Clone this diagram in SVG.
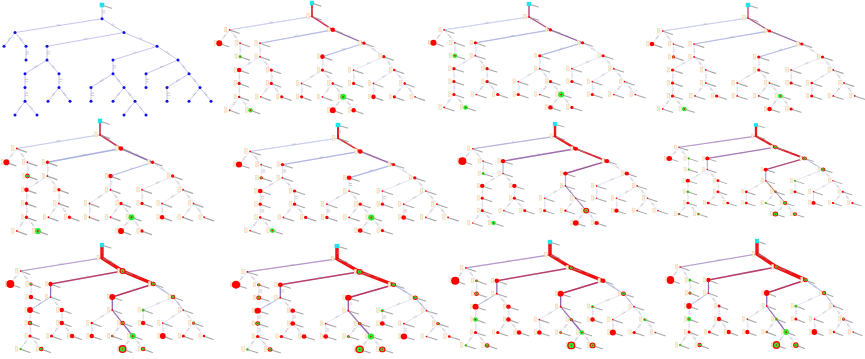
<svg xmlns="http://www.w3.org/2000/svg" xmlns:xlink="http://www.w3.org/1999/xlink" width="865" height="359" viewBox="0 0 865 359">
<style>
.lb{fill:#fcefd8;stroke:#e6c796;stroke-width:0.4}
.wh{stroke:#939393;stroke-width:1.15;stroke-linecap:round;opacity:0.8}
.r{fill:#f00}
.g{fill:#2ee82e}
.bl{fill:#1212e6}
.el{font-family:"Liberation Sans",sans-serif;font-size:2.6px;fill:#9a9a9a;text-anchor:middle;dominant-baseline:central}
.ov path{fill:none;stroke-linecap:round;stroke-linejoin:round}
</style>
<defs>
<g id="edges" fill="none">
<line x1="0" y1="0" x2="0" y2="13.75"/>
<line x1="0" y1="13.75" x2="-87" y2="27.5"/>
<line x1="0" y1="13.75" x2="22" y2="27.5"/>
<line x1="-87" y1="27.5" x2="-98" y2="41.25"/>
<line x1="-87" y1="27.5" x2="-76" y2="41.25"/>
<line x1="-76" y1="41.25" x2="-76" y2="55"/>
<line x1="22" y1="27.5" x2="-55" y2="41.25"/>
<line x1="22" y1="27.5" x2="55" y2="41.25"/>
<line x1="-55" y1="41.25" x2="-55" y2="55"/>
<line x1="-55" y1="55" x2="-77" y2="68.75"/>
<line x1="-55" y1="55" x2="-43" y2="68.75"/>
<line x1="-77" y1="68.75" x2="-77" y2="82.5"/>
<line x1="-77" y1="82.5" x2="-77" y2="96.25"/>
<line x1="-77" y1="96.25" x2="-87" y2="110"/>
<line x1="-77" y1="96.25" x2="-65" y2="110"/>
<line x1="-43" y1="68.75" x2="-43" y2="82.5"/>
<line x1="-43" y1="82.5" x2="-54" y2="96.25"/>
<line x1="-43" y1="82.5" x2="-32" y2="96.25"/>
<line x1="55" y1="41.25" x2="11" y2="55"/>
<line x1="55" y1="41.25" x2="76" y2="55"/>
<line x1="11" y1="55" x2="11" y2="68.75"/>
<line x1="11" y1="68.75" x2="-11" y2="82.5"/>
<line x1="11" y1="68.75" x2="22" y2="82.5"/>
<line x1="-11" y1="82.5" x2="-11" y2="96.25"/>
<line x1="22" y1="82.5" x2="11" y2="96.25"/>
<line x1="22" y1="82.5" x2="33" y2="96.25"/>
<line x1="33" y1="96.25" x2="22" y2="110"/>
<line x1="33" y1="96.25" x2="44" y2="110"/>
<line x1="76" y1="55" x2="44" y2="68.75"/>
<line x1="76" y1="55" x2="87" y2="68.75"/>
<line x1="44" y1="68.75" x2="44" y2="82.5"/>
<line x1="87" y1="68.75" x2="65" y2="82.5"/>
<line x1="87" y1="68.75" x2="98" y2="82.5"/>
<line x1="65" y1="82.5" x2="65" y2="96.25"/>
<line x1="98" y1="82.5" x2="87" y2="96.25"/>
<line x1="98" y1="82.5" x2="109" y2="96.25"/>
</g>
<g id="elabels" class="el">
<text transform="translate(0.8,6.9) rotate(90)">0.5</text>
<text transform="translate(-43.5,20.2) rotate(-9)">0.5</text>
<text transform="translate(11,20.2) rotate(32)">0.5</text>
<text transform="translate(-92.5,34.4) rotate(-51)">0.5</text>
<text transform="translate(-81.5,34.4) rotate(51)">0.5</text>
<text transform="translate(-75.2,48.1) rotate(90)">0.5</text>
<text transform="translate(-16.5,34) rotate(-10)">0.5</text>
<text transform="translate(38.5,34) rotate(23)">0.5</text>
<text transform="translate(-54.2,48.1) rotate(90)">0.5</text>
<text transform="translate(-66,61.9) rotate(-32)">0.5</text>
<text transform="translate(-49,61.9) rotate(49)">0.5</text>
<text transform="translate(-76.2,75.6) rotate(90)">0.5</text>
<text transform="translate(-76.2,89.4) rotate(90)">0.5</text>
<text transform="translate(-82,103.1) rotate(-54)">0.5</text>
<text transform="translate(-71,103.1) rotate(49)">0.5</text>
<text transform="translate(-42.2,75.6) rotate(90)">0.5</text>
<text transform="translate(-48.5,89.4) rotate(-51)">0.5</text>
<text transform="translate(-37.5,89.4) rotate(51)">0.5</text>
<text transform="translate(33,47.8) rotate(-17)">0.5</text>
<text transform="translate(65.5,48.1) rotate(33)">0.5</text>
<text transform="translate(11.8,61.9) rotate(90)">0.5</text>
<text transform="translate(0,75.6) rotate(-32)">0.5</text>
<text transform="translate(16.5,75.6) rotate(51)">0.5</text>
<text transform="translate(-10.2,89.4) rotate(90)">0.5</text>
<text transform="translate(16.5,89.4) rotate(-51)">0.5</text>
<text transform="translate(27.5,89.4) rotate(51)">0.5</text>
<text transform="translate(27.5,103.1) rotate(-51)">0.5</text>
<text transform="translate(38.5,103.1) rotate(51)">0.5</text>
<text transform="translate(60,61.9) rotate(-23)">0.5</text>
<text transform="translate(81.5,61.9) rotate(51)">0.5</text>
<text transform="translate(44.8,75.6) rotate(90)">0.5</text>
<text transform="translate(76,75.6) rotate(-32)">0.5</text>
<text transform="translate(92.5,75.6) rotate(51)">0.5</text>
<text transform="translate(65.8,89.4) rotate(90)">0.5</text>
<text transform="translate(92.5,89.4) rotate(-51)">0.5</text>
<text transform="translate(103.5,89.4) rotate(51)">0.5</text>
</g>
<g id="rootsym"><line class="wh" x1="1" y1="0.5" x2="9.5" y2="3.2"/><rect x="-2.3" y="-2.3" width="4.6" height="4.6" fill="#22e3ea"/></g>
<g id="nd"><rect class="lb" x="-5.4" y="-2.8" width="2.4" height="5"/><line class="wh" x1="1.2" y1="0.6" x2="10" y2="3.6"/><circle r="0.9" class="r"/></g>
<g id="lnodes">
<use href="#nd" x="0" y="13.75"/><use href="#nd" x="-87" y="27.5"/><use href="#nd" x="22" y="27.5"/>
<use href="#nd" x="-98" y="41.25"/><use href="#nd" x="-76" y="41.25"/><use href="#nd" x="-76" y="55"/>
<use href="#nd" x="-55" y="41.25"/><use href="#nd" x="55" y="41.25"/><use href="#nd" x="-55" y="55"/>
<use href="#nd" x="-77" y="68.75"/><use href="#nd" x="-43" y="68.75"/><use href="#nd" x="-77" y="82.5"/>
<use href="#nd" x="-77" y="96.25"/><use href="#nd" x="-87" y="110"/><use href="#nd" x="-65" y="110"/>
<use href="#nd" x="-43" y="82.5"/><use href="#nd" x="-54" y="96.25"/><use href="#nd" x="-32" y="96.25"/>
<use href="#nd" x="11" y="55"/><use href="#nd" x="76" y="55"/><use href="#nd" x="11" y="68.75"/>
<use href="#nd" x="-11" y="82.5"/><use href="#nd" x="22" y="82.5"/><use href="#nd" x="-11" y="96.25"/>
<use href="#nd" x="11" y="96.25"/><use href="#nd" x="33" y="96.25"/><use href="#nd" x="22" y="110"/>
<use href="#nd" x="44" y="110"/><use href="#nd" x="44" y="68.75"/><use href="#nd" x="87" y="68.75"/>
<use href="#nd" x="44" y="82.5"/><use href="#nd" x="65" y="82.5"/><use href="#nd" x="98" y="82.5"/>
<use href="#nd" x="65" y="96.25"/><use href="#nd" x="87" y="96.25"/><use href="#nd" x="109" y="96.25"/>
</g>
<circle id="Rt" r="1.25" class="r"/>
<circle id="Rs" r="1.65" class="r"/>
<circle id="Rm" r="2.35" class="r"/>
<circle id="Rl" r="3.1" class="r"/>
<circle id="Rxl" r="4.2" class="r"/>
<g id="Gt"><circle r="1.3" class="g"/><circle r="0.5" class="r"/></g>
<g id="Gs"><circle r="1.7" class="g"/><circle r="0.65" class="r"/></g>
<g id="Gm"><circle r="2.4" class="g"/><circle r="0.8" class="r"/></g>
<g id="Gl"><circle r="3.1" class="g"/><circle r="0.9" class="r"/></g>
<g id="RGt"><circle r="1.3" class="r"/><circle r="0.75" class="g"/><circle r="0.3" class="r"/></g>
<g id="RGs"><circle r="1.7" class="r"/><circle r="1.05" class="g"/><circle r="0.4" class="r"/></g>
<g id="RGm"><circle r="2.4" class="r"/><circle r="1.5" class="g"/><circle r="0.55" class="r"/></g>
<g id="RGl"><circle r="3.1" class="r"/><circle r="2" class="g"/><circle r="0.65" class="r"/></g>
<g id="RGxl"><circle r="4.2" class="r"/><circle r="2.8" class="g"/><circle r="0.75" class="r"/></g>
<circle id="Bs" r="1.5" fill="#a4602e"/>
</defs>

<rect width="865" height="359" fill="#fff"/>

<!-- Panel 1 -->
<g id="panel1" transform="translate(102,5)">
<g id="panel1-connectors"><use href="#edges" stroke="#c6c6f2" stroke-width="1"/></g>
<use href="#elabels"/>
<g id="panel1-nodes" class="bl">
<g id="p1-n1"><circle cx="0" cy="13.75" r="1.5"/></g>
<g id="p1-n2"><circle cx="-87" cy="27.5" r="1.5"/></g>
<g id="p1-n3"><circle cx="22" cy="27.5" r="1.5"/></g>
<g id="p1-n4"><circle cx="-98" cy="41.25" r="1.5"/></g>
<g id="p1-n5"><circle cx="-76" cy="41.25" r="1.5"/></g>
<g id="p1-n6"><circle cx="-76" cy="55" r="1.5"/></g>
<g id="p1-n7"><circle cx="-55" cy="41.25" r="1.5"/></g>
<g id="p1-n8"><circle cx="55" cy="41.25" r="1.5"/></g>
<g id="p1-n9"><circle cx="-55" cy="55" r="1.5"/></g>
<g id="p1-n10"><circle cx="-77" cy="68.75" r="1.5"/></g>
<g id="p1-n11"><circle cx="-43" cy="68.75" r="1.5"/></g>
<g id="p1-n12"><circle cx="-77" cy="82.5" r="1.5"/></g>
<g id="p1-n13"><circle cx="-77" cy="96.25" r="1.5"/></g>
<g id="p1-n14"><circle cx="-87" cy="110" r="1.5"/></g>
<g id="p1-n15"><circle cx="-65" cy="110" r="1.5"/></g>
<g id="p1-n16"><circle cx="-43" cy="82.5" r="1.5"/></g>
<g id="p1-n17"><circle cx="-54" cy="96.25" r="1.5"/></g>
<g id="p1-n18"><circle cx="-32" cy="96.25" r="1.5"/></g>
<g id="p1-n19"><circle cx="11" cy="55" r="1.5"/></g>
<g id="p1-n20"><circle cx="76" cy="55" r="1.5"/></g>
<g id="p1-n21"><circle cx="11" cy="68.75" r="1.5"/></g>
<g id="p1-n22"><circle cx="-11" cy="82.5" r="1.5"/></g>
<g id="p1-n23"><circle cx="22" cy="82.5" r="1.5"/></g>
<g id="p1-n24"><circle cx="-11" cy="96.25" r="1.5"/></g>
<g id="p1-n25"><circle cx="11" cy="96.25" r="1.5"/></g>
<g id="p1-n26"><circle cx="33" cy="96.25" r="1.5"/></g>
<g id="p1-n27"><circle cx="22" cy="110" r="1.5"/></g>
<g id="p1-n28"><circle cx="44" cy="110" r="1.5"/></g>
<g id="p1-n29"><circle cx="44" cy="68.75" r="1.5"/></g>
<g id="p1-n30"><circle cx="87" cy="68.75" r="1.5"/></g>
<g id="p1-n31"><circle cx="44" cy="82.5" r="1.5"/></g>
<g id="p1-n32"><circle cx="65" cy="82.5" r="1.5"/></g>
<g id="p1-n33"><circle cx="98" cy="82.5" r="1.5"/></g>
<g id="p1-n34"><circle cx="65" cy="96.25" r="1.5"/></g>
<g id="p1-n35"><circle cx="87" cy="96.25" r="1.5"/></g>
<g id="p1-n36"><circle cx="109" cy="96.25" r="1.5"/></g>
</g>
<g id="p1-n0"><use href="#rootsym"/></g>
</g>

<!-- Panel 2 -->
<g id="panel2" transform="translate(312,3) scale(0.946,0.975)">
<g id="panel2-connectors" class="ov"><use href="#edges" stroke="#dcdcf4" stroke-width="0.8"/>
<path d="M0 0V13.75" stroke="#e01818" stroke-width="1.7"/>
<path d="M0 13.75L22 27.5" stroke="#d03050" stroke-width="1.5"/>
<path d="M22 27.5L55 41.25" stroke="#9468a8" stroke-width="1.3"/>
<path d="M0 13.75L-87 27.5" stroke="#c8ccf0" stroke-width="1"/>
<path d="M22 27.5L-55 41.25" stroke="#b4bbe8" stroke-width="1.2"/>
<path d="M55 41.25L11 55" stroke="#bcc2ec" stroke-width="1.1"/>
</g>
<use href="#elabels"/><use href="#lnodes"/><use href="#rootsym"/>
<g id="panel2-nodes">
<use href="#Rm" x="22" y="27.5"/><use href="#Rs" x="55" y="41.25"/><use href="#Rl" x="-98" y="41.25"/>
<use href="#Gs" x="-76" y="55"/><use href="#Rm" x="-77" y="68.75"/><use href="#Rs" x="-43" y="68.75"/>
<use href="#Rs" x="-77" y="82.5"/><use href="#Rt" x="-77" y="96.25"/><use href="#Gm" x="-65" y="110"/>
<use href="#Rs" x="-43" y="82.5"/><use href="#Rs" x="-32" y="96.25"/><use href="#Rm" x="11" y="55"/>
<use href="#Rs" x="11" y="68.75"/><use href="#Rt" x="22" y="82.5"/><use href="#Rs" x="-11" y="96.25"/>
<use href="#Gl" x="33" y="96.25"/><use href="#Rl" x="22" y="110"/><use href="#Rm" x="44" y="110"/>
<use href="#Rs" x="76" y="55"/><use href="#Rt" x="87" y="68.75"/><use href="#Rs" x="44" y="82.5"/>
<use href="#Rt" x="98" y="82.5"/><use href="#Rm" x="65" y="96.25"/><use href="#Rs" x="87" y="96.25"/>
</g>
</g>

<!-- Panel 3 -->
<g id="panel3" transform="translate(529,4) scale(0.975,0.94)">
<g id="panel3-connectors" class="ov"><use href="#edges" stroke="#dcdcf4" stroke-width="0.8"/>
<path d="M0 0V13.75" stroke="#c04070" stroke-width="1.4"/>
<path d="M0 13.75L22 27.5" stroke="#b05088" stroke-width="1.3"/>
<path d="M22 27.5L55 41.25" stroke="#9a60a0" stroke-width="1.3"/>
<path d="M22 27.5L-55 41.25" stroke="#b4bce8" stroke-width="1.4"/>
<path d="M55 41.25L11 55" stroke="#b4bce8" stroke-width="1.3"/>
<path d="M0 13.75L-87 27.5" stroke="#cacef0" stroke-width="1"/>
</g>
<use href="#elabels"/><use href="#lnodes"/><use href="#rootsym"/>
<g id="panel3-nodes">
<use href="#Rs" x="22" y="27.5"/><use href="#Rs" x="55" y="41.25"/><use href="#Rl" x="-98" y="41.25"/>
<use href="#Gm" x="-76" y="55"/><use href="#Rs" x="-55" y="41.25"/><use href="#Rs" x="-77" y="68.75"/>
<use href="#Rs" x="-43" y="68.75"/><use href="#Rs" x="-77" y="82.5"/><use href="#Rs" x="-43" y="82.5"/>
<use href="#Rs" x="-77" y="96.25"/><use href="#Gm" x="-65" y="110"/><use href="#Rs" x="-32" y="96.25"/>
<use href="#Rs" x="11" y="55"/><use href="#Rs" x="76" y="55"/><use href="#Rs" x="22" y="82.5"/>
<use href="#Rs" x="-11" y="96.25"/><use href="#Gl" x="33" y="96.25"/><use href="#Rm" x="22" y="110"/>
<use href="#Rs" x="44" y="110"/><use href="#Rs" x="44" y="82.5"/><use href="#Rs" x="65" y="96.25"/>
</g>
</g>

<!-- Panel 4 -->
<g id="panel4" transform="translate(748,5) scale(0.98,0.945)">
<g id="panel4-connectors" class="ov"><use href="#edges" stroke="#dcdcf4" stroke-width="0.8"/>
<path d="M0 0V13.75" stroke="#c84060" stroke-width="1.3"/>
<path d="M0 13.75L22 27.5" stroke="#b05080" stroke-width="1.3"/>
<path d="M22 27.5L55 41.25" stroke="#9a68a8" stroke-width="1.2"/>
<path d="M22 27.5L-55 41.25" stroke="#b4bce8" stroke-width="1.3"/>
<path d="M55 41.25L11 55" stroke="#b4bce8" stroke-width="1.2"/>
<path d="M0 13.75L-87 27.5" stroke="#cacef0" stroke-width="1"/>
</g>
<use href="#elabels"/><use href="#lnodes"/><use href="#rootsym"/>
<g id="panel4-nodes">
<use href="#Rs" x="22" y="27.5"/><use href="#Rs" x="55" y="41.25"/><use href="#Rm" x="-98" y="41.25"/>
<use href="#RGs" x="-76" y="55"/><use href="#Rs" x="-77" y="68.75"/><use href="#Rs" x="-77" y="82.5"/>
<use href="#Rs" x="-77" y="96.25"/><use href="#Gm" x="-65" y="110"/><use href="#Rs" x="-32" y="96.25"/>
<use href="#Rs" x="11" y="55"/><use href="#Rs" x="11" y="68.75"/><use href="#Gm" x="33" y="96.25"/>
<use href="#Rm" x="22" y="110"/><use href="#Rs" x="44" y="110"/><use href="#Rs" x="76" y="55"/>
<use href="#Rs" x="44" y="82.5"/><use href="#Rt" x="65" y="82.5"/><use href="#Rs" x="65" y="96.25"/>
</g>
</g>

<!-- Panel 5 -->
<g id="panel5" transform="translate(100,121) scale(0.955,1)">
<g id="panel5-connectors" class="ov"><use href="#edges" stroke="#dcdcf4" stroke-width="0.8"/>
<path d="M0 0V13.75" stroke="#c04060" stroke-width="1.8"/>
<path d="M0 13.75L22 27.5" stroke="#c83858" stroke-width="1.5"/>
<path d="M22 27.5L55 41.25" stroke="#9070b0" stroke-width="1.4"/>
<path d="M22 27.5L-55 41.25" stroke="#aab2e2" stroke-width="1.3"/>
<path d="M55 41.25L11 55" stroke="#bac0ea" stroke-width="1.2"/>
<path d="M0 13.75L-87 27.5" stroke="#c8ccf0" stroke-width="1"/>
</g>
<use href="#elabels"/><use href="#lnodes"/><use href="#rootsym"/>
<g id="panel5-nodes">
<use href="#Rm" x="22" y="27.5"/><use href="#Rs" x="55" y="41.25"/><use href="#Rl" x="-98" y="41.25"/>
<use href="#RGm" x="-76" y="55"/><use href="#Rs" x="-55" y="41.25"/><use href="#Rm" x="-77" y="68.75"/>
<use href="#Rs" x="-43" y="68.75"/><use href="#Rs" x="-77" y="82.5"/><use href="#Rs" x="-77" y="96.25"/>
<use href="#Gl" x="-65" y="110"/><use href="#Rs" x="-32" y="96.25"/><use href="#Rm" x="11" y="55"/>
<use href="#Rs" x="76" y="55"/><use href="#Rs" x="22" y="82.5"/><use href="#Gl" x="33" y="96.25"/>
<use href="#Rl" x="22" y="110"/><use href="#Rs" x="44" y="110"/><use href="#Rs" x="44" y="82.5"/>
<use href="#Rm" x="65" y="96.25"/>
</g>
</g>

<!-- Panel 6 -->
<g id="panel6" transform="translate(338,125) scale(1.01,0.96)">
<g id="panel6-connectors" class="ov"><use href="#edges" stroke="#dcdcf4" stroke-width="0.8"/>
<path d="M0 0V13.75" stroke="#e02020" stroke-width="2"/>
<path d="M0 13.75L22 27.5" stroke="#e02828" stroke-width="1.6"/>
<path d="M22 27.5L55 41.25" stroke="#9a60a8" stroke-width="1.4"/>
<path d="M22 27.5L-55 41.25" stroke="#b2b9e6" stroke-width="1.4"/>
<path d="M55 41.25L11 55" stroke="#b2b9e6" stroke-width="1.3"/>
<path d="M0 13.75L-87 27.5" stroke="#c8ccf0" stroke-width="1"/>
</g>
<use href="#elabels"/><use href="#lnodes"/><use href="#rootsym"/>
<g id="panel6-nodes">
<use href="#Rm" x="22" y="27.5"/><use href="#Rs" x="55" y="41.25"/><use href="#Rl" x="-98" y="41.25"/>
<use href="#RGs" x="-76" y="55"/><use href="#Rs" x="-55" y="41.25"/><use href="#Rm" x="-77" y="68.75"/>
<use href="#Rs" x="-43" y="68.75"/><use href="#Rs" x="-77" y="82.5"/><use href="#Rs" x="-43" y="82.5"/>
<use href="#Rt" x="-77" y="96.25"/><use href="#Gm" x="-65" y="110"/><use href="#Rs" x="-32" y="96.25"/>
<use href="#Rm" x="11" y="55"/><use href="#Rs" x="22" y="82.5"/><use href="#Rs" x="-11" y="96.25"/>
<use href="#Gl" x="33" y="96.25"/><use href="#Rm" x="22" y="110"/><use href="#Rs" x="44" y="110"/>
<use href="#Rs" x="76" y="55"/><use href="#Rs" x="44" y="82.5"/><use href="#Rm" x="65" y="96.25"/>
</g>
</g>

<!-- Panel 7 -->
<g id="panel7" transform="translate(555,124) scale(0.945,0.9)">
<g id="panel7-connectors" class="ov"><use href="#edges" stroke="#dcdcf4" stroke-width="0.8"/>
<path d="M0 13.75L-87 27.5" stroke="#bcaedc" stroke-width="1.2"/>
<path d="M22 27.5L-55 41.25" stroke="#a070b0" stroke-width="1.5"/>
<path d="M55 41.25L11 55" stroke="#a05898" stroke-width="1.5"/>
<path d="M-55 41.25V55" stroke="#b8bfea" stroke-width="1.1"/>
<path d="M11 55V68.75" stroke="#b4a6d4" stroke-width="1.1"/>
<path d="M11 68.75L22 82.5L33 96.25" stroke="#a888c6" stroke-width="1.1"/>
<path d="M0 0V13.75L22 27.5" stroke="#e81818" stroke-width="2.6"/>
<path d="M22 27.5L55 41.25" stroke="#e02030" stroke-width="2"/>
</g>
<use href="#elabels"/><use href="#lnodes"/><use href="#rootsym"/>
<g id="panel7-nodes">
<use href="#Rm" x="22" y="27.5"/><use href="#Rm" x="55" y="41.25"/><use href="#Rxl" x="-98" y="41.25"/>
<use href="#Gs" x="-76" y="55"/><use href="#Rm" x="-55" y="41.25"/><use href="#Rm" x="-77" y="68.75"/>
<use href="#Rm" x="-43" y="68.75"/><use href="#Rs" x="-77" y="82.5"/><use href="#Rs" x="-43" y="82.5"/>
<use href="#Rs" x="-77" y="96.25"/><use href="#Gm" x="-65" y="110"/><use href="#Rs" x="-32" y="96.25"/>
<use href="#Rm" x="11" y="55"/><use href="#Rs" x="-11" y="96.25"/><use href="#Rt" x="11" y="96.25"/>
<use href="#RGl" x="33" y="96.25"/><use href="#Rl" x="22" y="110"/><use href="#Rm" x="44" y="110"/>
<use href="#Rm" x="76" y="55"/><use href="#Rm" x="65" y="96.25"/>
</g>
</g>

<!-- Panel 8 -->
<g id="panel8" transform="translate(756,125) scale(0.885,0.81)">
<g id="panel8-connectors" class="ov"><use href="#edges" stroke="#dcdcf4" stroke-width="0.8"/>
<path d="M0 13.75L-87 27.5" stroke="#b898cc" stroke-width="1.3"/>
<path d="M22 27.5L-55 41.25" stroke="#a878b8" stroke-width="1.5"/>
<path d="M55 41.25L11 55" stroke="#b04878" stroke-width="1.5"/>
<path d="M55 41.25L76 55" stroke="#b8bfea" stroke-width="1.1"/>
<path d="M-55 41.25V55" stroke="#b0b0e0" stroke-width="1.1"/>
<path d="M11 55V68.75" stroke="#a890c8" stroke-width="1.1"/>
<path d="M11 68.75L22 82.5" stroke="#c09070" stroke-width="1.2"/>
<path d="M22 82.5L33 96.25" stroke="#a080c0" stroke-width="1.1"/>
<path d="M0 0V13.75L22 27.5" stroke="#e81818" stroke-width="2.6"/>
<path d="M22 27.5L55 41.25" stroke="#e01828" stroke-width="2.3"/>
</g>
<use href="#elabels"/><use href="#lnodes"/><use href="#rootsym"/>
<g id="panel8-nodes">
<use href="#RGm" x="22" y="27.5"/><use href="#RGm" x="55" y="41.25"/><use href="#Rl" x="-98" y="41.25"/>
<use href="#Gt" x="-76" y="41.25"/><use href="#Gt" x="-76" y="55"/><use href="#Rm" x="-55" y="41.25"/>
<use href="#Rm" x="-77" y="68.75"/><use href="#Rs" x="-43" y="68.75"/><use href="#Gs" x="-77" y="82.5"/>
<use href="#Rs" x="-43" y="82.5"/><use href="#Rs" x="-77" y="96.25"/><use href="#Bs" x="-87" y="110"/>
<use href="#Gs" x="-65" y="110"/><use href="#Rs" x="-54" y="96.25"/><use href="#Rs" x="-32" y="96.25"/>
<use href="#Rm" x="11" y="55"/><use href="#RGm" x="76" y="55"/><use href="#Rs" x="-11" y="82.5"/>
<use href="#Bs" x="22" y="82.5"/><use href="#Rs" x="-11" y="96.25"/><use href="#Gt" x="11" y="96.25"/>
<use href="#RGm" x="33" y="96.25"/><use href="#RGl" x="22" y="110"/><use href="#RGm" x="44" y="110"/>
<use href="#Gt" x="44" y="68.75"/><use href="#Rs" x="44" y="82.5"/><use href="#Rt" x="98" y="82.5"/>
<use href="#Rm" x="65" y="96.25"/><use href="#Rt" x="87" y="96.25"/><use href="#Rt" x="109" y="96.25"/>
</g>
</g>

<!-- Panel 9 -->
<g id="panel9" transform="translate(102,245) scale(0.935,0.946)">
<g id="panel9-connectors" class="ov"><use href="#edges" stroke="#dcdcf4" stroke-width="0.8"/>
<path d="M0 13.75L-87 27.5" stroke="#b898cc" stroke-width="1.3"/>
<path d="M22 27.5L-55 41.25" stroke="#b84070" stroke-width="1.6"/>
<path d="M55 41.25L11 55" stroke="#b83060" stroke-width="1.6"/>
<path d="M55 41.25L76 55" stroke="#bcc3ec" stroke-width="1.2"/>
<path d="M-55 41.25V55" stroke="#9070b8" stroke-width="1.3"/>
<path d="M-55 55L-77 68.75" stroke="#b8bfea" stroke-width="1"/>
<path d="M76 55L87 68.75" stroke="#b8bfea" stroke-width="1"/>
<path d="M11 55V68.75" stroke="#9060b0" stroke-width="1.3"/>
<path d="M11 68.75L22 82.5" stroke="#a070b8" stroke-width="1.2"/>
<path d="M22 82.5L33 96.25" stroke="#9060c0" stroke-width="1.4"/>
<path d="M0 0V13.75L22 27.5L55 41.25" stroke="#ee1010" stroke-width="3.6"/>
</g>
<use href="#elabels"/><use href="#lnodes"/><use href="#rootsym"/>
<g id="panel9-nodes">
<use href="#RGl" x="22" y="27.5"/><use href="#RGm" x="55" y="41.25"/><use href="#Rxl" x="-98" y="41.25"/>
<use href="#RGs" x="-76" y="41.25"/><use href="#Rm" x="-76" y="55"/><use href="#Rm" x="-55" y="41.25"/>
<use href="#Rl" x="-77" y="68.75"/><use href="#Rm" x="-43" y="68.75"/><use href="#RGm" x="-77" y="82.5"/>
<use href="#Rm" x="-43" y="82.5"/><use href="#Rs" x="-77" y="96.25"/><use href="#Gt" x="-87" y="110"/>
<use href="#RGm" x="-65" y="110"/><use href="#Rs" x="-54" y="96.25"/><use href="#Rm" x="-32" y="96.25"/>
<use href="#Rl" x="11" y="55"/><use href="#Rt" x="-11" y="82.5"/><use href="#RGm" x="22" y="82.5"/>
<use href="#Rm" x="-11" y="96.25"/><use href="#RGt" x="11" y="96.25"/><use href="#Gl" x="33" y="96.25"/>
<use href="#RGxl" x="22" y="110"/><use href="#RGm" x="44" y="110"/><use href="#RGm" x="76" y="55"/>
<use href="#Gs" x="44" y="68.75"/><use href="#Rm" x="44" y="82.5"/><use href="#RGs" x="98" y="82.5"/>
<use href="#Rl" x="65" y="96.25"/><use href="#Rs" x="87" y="96.25"/><use href="#Rt" x="109" y="96.25"/>
</g>
</g>

<!-- Panel 10 -->
<g id="panel10" transform="translate(337,246) scale(1.03,0.94)">
<g id="panel10-connectors" class="ov"><use href="#edges" stroke="#dcdcf4" stroke-width="0.8"/>
<path d="M0 13.75L-87 27.5" stroke="#b898cc" stroke-width="1.3"/>
<path d="M22 27.5L-55 41.25" stroke="#b84070" stroke-width="1.6"/>
<path d="M55 41.25L11 55" stroke="#b83060" stroke-width="1.6"/>
<path d="M55 41.25L76 55" stroke="#bcc3ec" stroke-width="1.2"/>
<path d="M-55 41.25V55" stroke="#9070b8" stroke-width="1.3"/>
<path d="M-55 55L-77 68.75" stroke="#b8bfea" stroke-width="1"/>
<path d="M76 55L87 68.75" stroke="#b8bfea" stroke-width="1"/>
<path d="M11 55V68.75" stroke="#9060b0" stroke-width="1.3"/>
<path d="M11 68.75L22 82.5" stroke="#a070b8" stroke-width="1.2"/>
<path d="M22 82.5L33 96.25" stroke="#9060c0" stroke-width="1.4"/>
<path d="M0 0V13.75L22 27.5L55 41.25" stroke="#ee1010" stroke-width="3.4"/>
</g>
<use href="#elabels"/><use href="#lnodes"/><use href="#rootsym"/>
<g id="panel10-nodes">
<use href="#RGl" x="22" y="27.5"/><use href="#RGm" x="55" y="41.25"/><use href="#Rxl" x="-98" y="41.25"/>
<use href="#RGs" x="-76" y="41.25"/><use href="#RGm" x="-76" y="55"/><use href="#Rm" x="-55" y="41.25"/>
<use href="#Rl" x="-77" y="68.75"/><use href="#Rm" x="-43" y="68.75"/><use href="#RGm" x="-77" y="82.5"/>
<use href="#Rm" x="-43" y="82.5"/><use href="#Rs" x="-77" y="96.25"/><use href="#Gt" x="-87" y="110"/>
<use href="#RGm" x="-65" y="110"/><use href="#Rs" x="-54" y="96.25"/><use href="#Rm" x="-32" y="96.25"/>
<use href="#Rl" x="11" y="55"/><use href="#RGs" x="22" y="82.5"/><use href="#Rm" x="-11" y="96.25"/>
<use href="#RGt" x="11" y="96.25"/><use href="#Gl" x="33" y="96.25"/><use href="#RGxl" x="22" y="110"/>
<use href="#RGl" x="44" y="110"/><use href="#RGm" x="76" y="55"/><use href="#Gs" x="44" y="68.75"/>
<use href="#Rm" x="44" y="82.5"/><use href="#RGs" x="98" y="82.5"/><use href="#Rl" x="65" y="96.25"/>
<use href="#Rt" x="109" y="96.25"/>
</g>
</g>

<!-- Panel 11 -->
<g id="panel11" transform="translate(550,242) scale(0.967,0.94)">
<g id="panel11-connectors" class="ov"><use href="#edges" stroke="#dcdcf4" stroke-width="0.8"/>
<path d="M0 13.75L-87 27.5" stroke="#b898cc" stroke-width="1.3"/>
<path d="M22 27.5L-55 41.25" stroke="#b84070" stroke-width="1.6"/>
<path d="M55 41.25L11 55" stroke="#b83060" stroke-width="1.6"/>
<path d="M55 41.25L76 55" stroke="#bcc3ec" stroke-width="1.2"/>
<path d="M-55 41.25V55" stroke="#9070b8" stroke-width="1.3"/>
<path d="M-55 55L-77 68.75" stroke="#b8bfea" stroke-width="1"/>
<path d="M76 55L87 68.75" stroke="#b8bfea" stroke-width="1"/>
<path d="M11 55V68.75" stroke="#9060b0" stroke-width="1.3"/>
<path d="M11 68.75L22 82.5" stroke="#a070b8" stroke-width="1.2"/>
<path d="M22 82.5L33 96.25" stroke="#9060c0" stroke-width="1.4"/>
<path d="M0 0V13.75L22 27.5L55 41.25" stroke="#ee1010" stroke-width="3.6"/>
</g>
<use href="#elabels"/><use href="#lnodes"/><use href="#rootsym"/>
<g id="panel11-nodes">
<use href="#RGm" x="22" y="27.5"/><use href="#Rm" x="55" y="41.25"/><use href="#Rxl" x="-98" y="41.25"/>
<use href="#RGt" x="-76" y="41.25"/><use href="#RGm" x="-76" y="55"/><use href="#Rm" x="-55" y="41.25"/>
<use href="#Rl" x="-77" y="68.75"/><use href="#Rm" x="-43" y="68.75"/><use href="#Gm" x="-77" y="82.5"/>
<use href="#Rm" x="-43" y="82.5"/><use href="#Rs" x="-77" y="96.25"/><use href="#Gt" x="-87" y="110"/>
<use href="#RGm" x="-65" y="110"/><use href="#Rs" x="-54" y="96.25"/><use href="#Rm" x="-32" y="96.25"/>
<use href="#Rl" x="11" y="55"/><use href="#RGm" x="76" y="55"/><use href="#RGs" x="22" y="82.5"/>
<use href="#Rm" x="-11" y="96.25"/><use href="#RGt" x="11" y="96.25"/><use href="#Gm" x="33" y="96.25"/>
<use href="#RGxl" x="22" y="110"/><use href="#RGl" x="44" y="110"/><use href="#Gs" x="44" y="68.75"/>
<use href="#Rm" x="44" y="82.5"/><use href="#Gs" x="98" y="82.5"/><use href="#Rl" x="65" y="96.25"/>
<use href="#Rs" x="87" y="96.25"/>
</g>
</g>

<!-- Panel 12 -->
<g id="panel12" transform="translate(757,241) scale(0.883,0.946)">
<g id="panel12-connectors" class="ov"><use href="#edges" stroke="#dcdcf4" stroke-width="0.8"/>
<path d="M0 13.75L-87 27.5" stroke="#b898cc" stroke-width="1.3"/>
<path d="M22 27.5L-55 41.25" stroke="#b84070" stroke-width="1.6"/>
<path d="M55 41.25L11 55" stroke="#b83060" stroke-width="1.6"/>
<path d="M55 41.25L76 55" stroke="#bcc3ec" stroke-width="1.2"/>
<path d="M-55 41.25V55" stroke="#9070b8" stroke-width="1.3"/>
<path d="M-55 55L-77 68.75" stroke="#b8bfea" stroke-width="1"/>
<path d="M76 55L87 68.75" stroke="#b8bfea" stroke-width="1"/>
<path d="M11 55V68.75" stroke="#9060b0" stroke-width="1.3"/>
<path d="M11 68.75L22 82.5" stroke="#a070b8" stroke-width="1.2"/>
<path d="M22 82.5L33 96.25" stroke="#9060c0" stroke-width="1.4"/>
<path d="M0 0V13.75L22 27.5L55 41.25" stroke="#ee1010" stroke-width="3.8"/>
</g>
<use href="#elabels"/><use href="#lnodes"/><use href="#rootsym"/>
<g id="panel12-nodes">
<use href="#RGm" x="22" y="27.5"/><use href="#RGm" x="55" y="41.25"/><use href="#Rxl" x="-98" y="41.25"/>
<use href="#Gs" x="-76" y="41.25"/><use href="#RGs" x="-76" y="55"/><use href="#Rm" x="-55" y="41.25"/>
<use href="#Rl" x="-77" y="68.75"/><use href="#Rs" x="-43" y="68.75"/><use href="#Gm" x="-77" y="82.5"/>
<use href="#Rm" x="-43" y="82.5"/><use href="#Rs" x="-77" y="96.25"/><use href="#Gt" x="-87" y="110"/>
<use href="#RGm" x="-65" y="110"/><use href="#Rs" x="-54" y="96.25"/><use href="#Rm" x="-32" y="96.25"/>
<use href="#Rl" x="11" y="55"/><use href="#RGm" x="76" y="55"/><use href="#Gs" x="22" y="82.5"/>
<use href="#Rm" x="-11" y="96.25"/><use href="#RGt" x="11" y="96.25"/><use href="#Gl" x="33" y="96.25"/>
<use href="#RGxl" x="22" y="110"/><use href="#RGl" x="44" y="110"/><use href="#Gs" x="44" y="68.75"/>
<use href="#Rs" x="44" y="82.5"/><use href="#RGs" x="98" y="82.5"/><use href="#Rl" x="65" y="96.25"/>
<use href="#Rt" x="87" y="96.25"/>
</g>
</g>
</svg>
